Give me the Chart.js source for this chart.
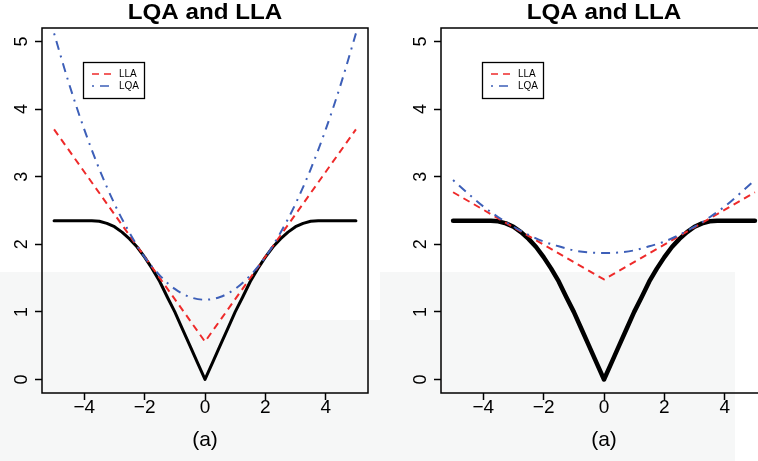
<!DOCTYPE html>
<html>
<head>
<meta charset="utf-8">
<script src="https://cdn.jsdelivr.net/npm/chart.js@4.4.1/dist/chart.umd.min.js"></script>
<style>
  html, body { margin: 0; padding: 0; width: 758px; height: 461px; overflow: hidden; background: #fff; }
  .painel { position: absolute; top: 0; width: 380px; height: 461px; }
  .marca { position: absolute; background: #f6f7f7; }
</style>
</head>
<body>
<div class="marca" style="left:0;top:272px;width:290px;height:189px"></div>
<div class="marca" style="left:290px;top:320px;width:90px;height:141px"></div>
<div class="marca" style="left:380px;top:272px;width:355px;height:189px"></div>
<div class="painel" style="left:0"><canvas id="grafico-esq"></canvas></div>
<div class="painel" style="left:399px"><canvas id="grafico-dir"></canvas></div>
<script>
// eixo x comum da penalidade verdadeira
const xGrade = [-5, -4.75, -4.5, -4.25, -4, -3.75, -3.5, -3.25, -3, -2.75, -2.5, -2.25, -2, -1.75, -1.5, -1.25, -1, -0.75, -0.5, -0.25,
  0, 0.25, 0.5, 0.75, 1, 1.25, 1.5, 1.75, 2, 2.25, 2.5, 2.75, 3, 3.25, 3.5, 3.75, 4, 4.25, 4.5, 4.75, 5];
const penalidade = [2.35, 2.35, 2.35, 2.35, 2.35, 2.35, 2.34, 2.31, 2.26, 2.18, 2.08, 1.96, 1.81, 1.64, 1.45, 1.22, 1.0, 0.75, 0.5, 0.25,
  0, 0.25, 0.5, 0.75, 1.0, 1.22, 1.45, 1.64, 1.81, 1.96, 2.08, 2.18, 2.26, 2.31, 2.34, 2.35, 2.35, 2.35, 2.35, 2.35, 2.35];

// LLA (retas) e LQA (parabolas)
const xLLA = [-5, 0, 5];
const llaEsq = [3.70, 0.56, 3.70];
const llaDir = [2.77, 1.48, 2.77];

const xLQA = [-5, -4.5, -4, -3.5, -3, -2.5, -2, -1.5, -1, -0.5, 0, 0.5, 1, 1.5, 2, 2.5, 3, 3.5, 4, 4.5, 5];
const lqaEsq = [5.12, 4.37, 3.70, 3.11, 2.60, 2.17, 1.81, 1.54, 1.34, 1.22, 1.18, 1.22, 1.34, 1.54, 1.81, 2.17, 2.60, 3.11, 3.70, 4.37, 5.12];
const lqaDir = [2.95, 2.75, 2.56, 2.40, 2.26, 2.14, 2.04, 1.97, 1.91, 1.88, 1.87, 1.88, 1.91, 1.97, 2.04, 2.14, 2.26, 2.40, 2.56, 2.75, 2.95];

const ticksX = [-4, -2, 0, 2, 4];
const ticksY = [0, 1, 2, 3, 4, 5];
const titulo = 'LQA and LLA';
const rotulo = '(a)';

const FONTE = '"Liberation Sans", Arial, sans-serif';

function Pontos(xs, ys) {
  return xs.map((x, i) => ({ x, y: ys[i] }));
}

const moldura = {
  id: 'moldura',
  afterDatasetsDraw(chart) {
    const { ctx, chartArea: a } = chart;
    const cx = (a.left + a.right) / 2;
    ctx.save();

    ctx.strokeStyle = '#000';
    ctx.lineWidth = 1.5;
    ctx.strokeRect(a.left, a.top, a.right - a.left, a.bottom - a.top);

    ctx.fillStyle = '#000';
    ctx.textAlign = 'center';
    ctx.textBaseline = 'alphabetic';
    ctx.save();
    ctx.translate(cx, 18.5);
    ctx.scale(1.1, 1);
    ctx.font = 'bold 22px ' + FONTE;
    ctx.fillText(titulo, 0, 0);
    ctx.restore();

    ctx.font = '21px ' + FONTE;
    ctx.fillText(rotulo, cx, 446);

    // legenda dentro do grafico
    ctx.lineWidth = 1.3;
    ctx.strokeRect(83.5, 62.5, 61, 36);
    const itens = ['LLA', 'LQA'].map(l => chart.data.datasets.find(d => d.label === l));
    itens.forEach((ds, i) => {
      const y = 74 + i * 12;
      ctx.save();
      ctx.strokeStyle = ds.borderColor;
      ctx.lineWidth = 1.6;
      ctx.setLineDash(ds.borderDash);
      ctx.beginPath();
      ctx.moveTo(92, y);
      ctx.lineTo(113, y);
      ctx.stroke();
      ctx.restore();
      ctx.font = '10px ' + FONTE;
      ctx.textAlign = 'left';
      ctx.textBaseline = 'middle';
      ctx.fillText(ds.label, 119, y);
    });
    ctx.restore();
  }
};

function CriarGrafico(id, lla, lqa, larguraPreta) {
  const ctx = document.getElementById(id).getContext('2d');
  return new Chart(ctx, {
    type: 'scatter',
    data: {
      datasets: [
        {
          label: 'LQA',
          data: Pontos(xLQA, lqa),
          showLine: true,
          borderColor: '#3d5fb8',
          borderWidth: 2,
          borderDash: [2, 6, 9, 6],
          cubicInterpolationMode: 'monotone',
          pointRadius: 0
        },
        {
          label: 'LLA',
          data: Pontos(xLLA, lla),
          showLine: true,
          borderColor: '#ee2a2a',
          borderWidth: 2,
          borderDash: [7, 5],
          pointRadius: 0
        },
        {
          label: 'verdadeira',
          data: Pontos(xGrade, penalidade),
          showLine: true,
          borderColor: '#000',
          borderWidth: larguraPreta,
          borderJoinStyle: 'round',
          borderCapStyle: 'round',
          tension: 0,
          pointRadius: 0
        }
      ]
    },
    options: {
      responsive: true,
      maintainAspectRatio: false,
      animation: false,
      layout: { padding: { top: 28, left: 0, right: 12, bottom: 0 } },
      plugins: { legend: { display: false }, title: { display: false }, tooltip: { enabled: false } },
      scales: {
        x: {
          type: 'linear',
          min: -5.4,
          max: 5.4,
          afterBuildTicks: s => { s.ticks = ticksX.map(v => ({ value: v })); },
          afterFit: s => { s.height = 68; },
          border: { display: false },
          grid: { drawOnChartArea: false, drawTicks: true, tickLength: 7, tickColor: '#000', tickWidth: 1.5 },
          ticks: {
            color: '#000',
            padding: -2,
            font: { family: FONTE, size: 19, lineHeight: 1 },
            callback: v => String(v).replace('-', '\u2212')
          }
        },
        y: {
          type: 'linear',
          min: -0.2,
          max: 5.2,
          afterBuildTicks: s => { s.ticks = ticksY.map(v => ({ value: v })); },
          afterFit: s => { s.width = 42; },
          border: { display: false },
          grid: { drawOnChartArea: false, drawTicks: true, tickLength: 7, tickColor: '#000', tickWidth: 1.5 },
          ticks: {
            color: '#000',
            padding: 8,
            minRotation: 90,
            maxRotation: 90,
            crossAlign: 'center',
            font: { family: FONTE, size: 18, lineHeight: 1 }
          }
        }
      }
    },
    plugins: [moldura]
  });
}

CriarGrafico('grafico-esq', llaEsq, lqaEsq, 3);
CriarGrafico('grafico-dir', llaDir, lqaDir, 4.5);
</script>
</body>
</html>
